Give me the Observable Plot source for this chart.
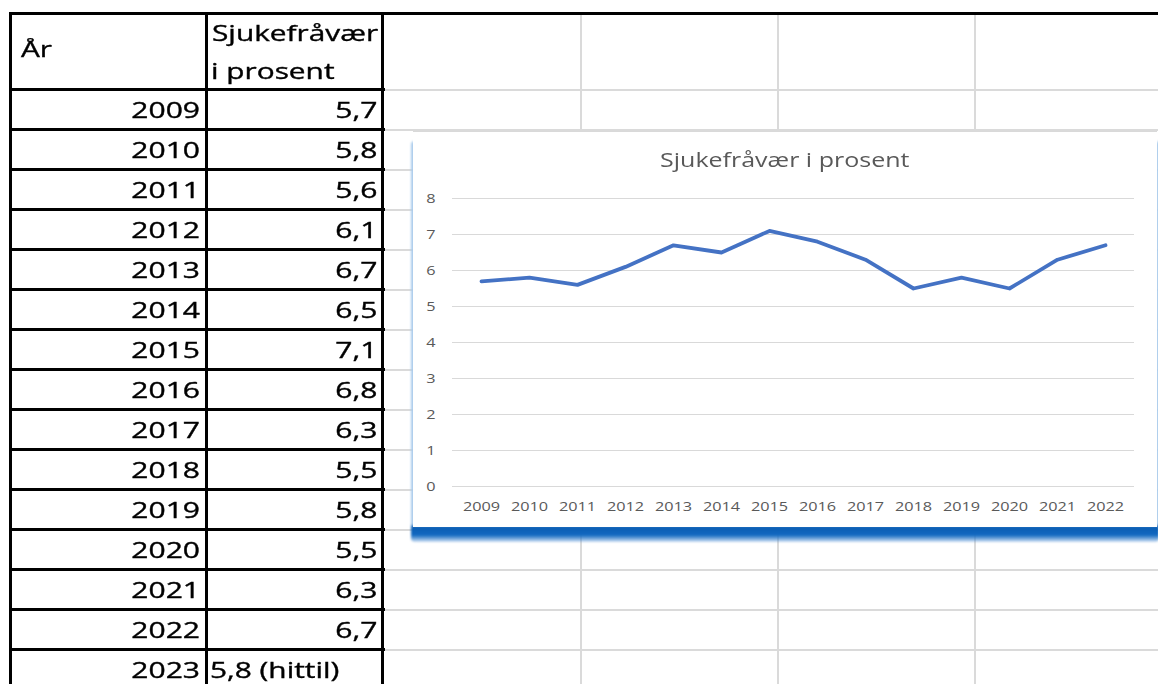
<!DOCTYPE html>
<html>
<head>
<meta charset="utf-8">
<script src="https://cdn.jsdelivr.net/npm/d3@7"></script>
<script src="https://cdn.jsdelivr.net/npm/@observablehq/plot@0.6"></script>
<style>
html,body{margin:0;padding:0;background:#fff;width:1158px;height:684px;overflow:hidden;font-family:"Open Sans",sans-serif;}
#page{position:relative;width:1158px;height:684px;overflow:hidden;}
.ln{position:absolute;}
.t{position:absolute;font-size:21px;line-height:21px;color:#000;white-space:nowrap;-webkit-text-stroke:0.35px #000;}
.t span{display:inline-block;}
.r span{transform:scaleX(1.43);transform-origin:right center;}
.l span{transform:scaleX(1.42);transform-origin:left center;}
</style>
</head>
<body>
<div id="page"></div>
<script>
// ---- data ----
const years = [2009, 2010, 2011, 2012, 2013, 2014, 2015, 2016, 2017, 2018, 2019, 2020, 2021, 2022];
const values = [5.7, 5.8, 5.6, 6.1, 6.7, 6.5, 7.1, 6.8, 6.3, 5.5, 5.8, 5.5, 6.3, 6.7];
const headerYear = "År";
const headerValue = ["Sjukefråvær", "i prosent"];
const extraYear = "2023";
const extraValue = "5,8 (hittil)";
const chartTitle = "Sjukefråvær i prosent";
const yTicks = [0, 1, 2, 3, 4, 5, 6, 7, 8];

const page = document.getElementById("page");
function box(left, top, width, height, color) {
  const d = document.createElement("div");
  d.className = "ln";
  Object.assign(d.style, {left: left + "px", top: top + "px", width: width + "px", height: height + "px", background: color});
  page.appendChild(d);
  return d;
}
function text(str, cls, style) {
  const d = document.createElement("div");
  d.className = "t " + cls;
  Object.assign(d.style, style);
  const s = document.createElement("span");
  s.textContent = str;
  d.appendChild(s);
  page.appendChild(d);
  return d;
}

// ---- spreadsheet grid (gray) ----
const gray = "#dadada";
for (let k = 0; k < 16; k++) box(383, 88.5 + 40 * k, 1158 - 383, 2, gray);
[580, 777, 974].forEach(x => box(x, 15, 2, 684, gray));

// ---- table borders (black) ----
const rowsCount = years.length + 1;
box(9, 12, 1158 - 9, 3, "#000");
for (let k = 0; k <= rowsCount; k++) box(9, 88 + 40 * k, 376, 3, "#000");
[9, 204.5, 380.5].forEach(x => box(x, 12, 3, 684, "#000"));

// ---- table text ----
text(headerYear, "l", {left: "21px", top: "39.4px"});
text(headerValue[0], "l", {left: "212px", top: "23px"});
text(headerValue[1], "l", {left: "211px", top: "61.4px"});
const fmt = v => String(v).replace(".", ",");
years.forEach((y, i) => {
  const top = 99.6 + 40 * i;
  text(String(y), "r", {left: "0px", width: "200px", textAlign: "right", top: top + "px"});
  text(fmt(values[i]), "r", {left: "0px", width: "377px", textAlign: "right", top: top + "px"});
});
{
  const top = 99.6 + 40 * years.length;
  text(extraYear, "r", {left: "0px", width: "200px", textAlign: "right", top: top + "px"});
  text(extraValue, "l", {left: "210px", top: top + "px"});
}

// ---- chart frame with selection shadow ----
const shadow = box(411, 141, 748, 401, "");
shadow.style.background = "linear-gradient(to bottom, #a9cbec 0px, #a9cbec 383px, #0a5db3 386px, #1168c0 394px, rgba(120,170,225,0.35) 401px)";
shadow.style.borderRadius = "4px";
shadow.style.filter = "blur(0.8px)";
const frame = box(413, 131, 744, 396, "#fff");
frame.style.boxSizing = "border-box";
frame.style.borderTop = "1px solid #d9d9d9";

// ---- chart ----
const data = years.map((y, i) => ({year: String(y), value: values[i]}));
const plot = Plot.plot({
  width: 744,
  height: 396,
  marginTop: 67,
  marginBottom: 41,
  marginLeft: 39,
  marginRight: 23,
  style: {fontFamily: "'Open Sans', sans-serif", fontSize: "13px", color: "#595959", background: "transparent", overflow: "visible"},
  x: {type: "point", domain: years.map(String), padding: 0.5, label: null, tickSize: 0, tickPadding: 15},
  y: {domain: [0, 8], ticks: yTicks, label: null, tickSize: 0, tickPadding: 17},
  marks: [
    Plot.ruleY(yTicks, {stroke: "#d9d9d9", strokeWidth: 1.2}),
    Plot.line(data, {x: "year", y: "value", stroke: "#4472C4", strokeWidth: 3.8})
  ]
});
plot.style.position = "absolute";
plot.style.left = "413px";
plot.style.top = "131px";
page.appendChild(plot);
plot.querySelectorAll("text").forEach(t => {
  t.style.fontSize = "13px";
  const w = t.getComputedTextLength();
  if (w > 0) {
    t.setAttribute("textLength", (w * 1.25).toFixed(2));
    t.setAttribute("lengthAdjust", "spacingAndGlyphs");
  }
});

// ---- chart title ----
const title = document.createElement("div");
Object.assign(title.style, {position: "absolute", left: "413px", width: "744px", top: "150.2px", textAlign: "center", fontSize: "20px", lineHeight: "20px", color: "#595959", whiteSpace: "nowrap"});
const ts = document.createElement("span");
ts.textContent = chartTitle;
Object.assign(ts.style, {display: "inline-block", transform: "scaleX(1.25)", transformOrigin: "center"});
title.appendChild(ts);
page.appendChild(title);
</script>
</body>
</html>
